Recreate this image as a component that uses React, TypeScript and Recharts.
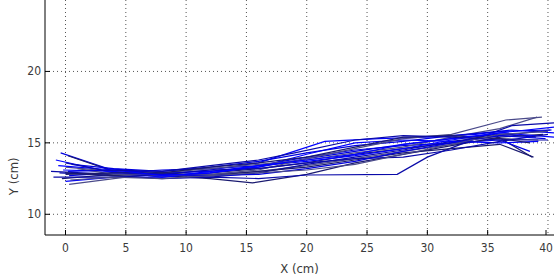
import { CartesianGrid, Line, LineChart, XAxis, YAxis } from "recharts";

// trajectories, each a list of [x, y] points in cm
const TRACK_01 = [[-0.4, 14.3], [3.5, 13.2], [8, 12.9], [12, 13.0], [16, 13.3], [20, 13.9], [24, 14.4], [28, 14.9], [32, 15.3], [36, 15.6], [39, 15.4]];
const TRACK_02 = [[0.2, 14.1], [4, 13.0], [8, 12.7], [12, 12.9], [16, 13.2], [20, 13.6], [24, 14.2], [28, 14.6], [32, 15.0], [35.5, 15.6], [38.7, 14.0]];
const TRACK_03 = [[-0.8, 13.8], [4, 12.9], [8, 12.8], [12, 13.1], [16, 13.6], [21.5, 15.1], [26, 15.3], [30, 15.4], [34, 15.6], [37, 15.9], [40.5, 15.7]];
const TRACK_04 = [[0, 13.3], [4, 13.0], [8, 12.6], [12, 12.8], [16, 13.0], [20, 13.4], [24, 13.9], [28, 14.4], [32, 14.9], [36, 15.3], [39.2, 15.2]];
const TRACK_05 = [[-1.2, 13.0], [4, 12.8], [8, 12.8], [12, 12.6], [16, 12.9], [20, 13.5], [24, 14.0], [28, 14.5], [32, 15.1], [36, 15.5], [40.2, 15.9]];
const TRACK_06 = [[0.3, 12.7], [4, 12.9], [8, 13.1], [12, 13.2], [16, 13.4], [20, 14.0], [24, 14.5], [28, 14.8], [32, 15.0], [36, 15.2], [38.5, 14.4]];
const TRACK_07 = [[-0.3, 12.5], [4, 12.8], [8, 12.7], [12, 12.5], [15.5, 12.2], [20, 12.8], [24, 13.6], [28, 14.2], [32, 14.8], [36, 15.4], [39.6, 15.6]];
const TRACK_08 = [[0, 12.3], [4, 12.6], [8, 12.6], [12, 12.9], [16, 13.3], [20, 14.2], [24, 15.0], [28, 15.2], [32, 15.1], [36, 15.0], [39.2, 15.1]];
const TRACK_09 = [[0.3, 12.1], [4, 12.5], [8, 12.9], [12, 13.2], [16, 13.5], [20, 13.8], [24, 14.3], [28, 14.7], [32, 15.4], [36, 16.0], [39.1, 16.8]];
const TRACK_10 = [[-0.5, 12.9], [4, 12.7], [8, 12.5], [12, 12.6], [16, 12.5], [20, 12.75], [27.5, 12.8], [30, 14.0], [34, 15.3], [37, 16.2], [40.5, 16.4]];
const TRACK_11 = [[0.5, 13.5], [4, 13.2], [8, 13.0], [12, 13.3], [16, 13.7], [20, 14.3], [24, 14.8], [28, 15.1], [32, 15.5], [36, 15.8], [40.3, 15.9]];
const TRACK_12 = [[0, 12.9], [4, 12.7], [8, 12.9], [12, 12.7], [16, 13.0], [20, 13.3], [24, 13.8], [28, 14.3], [32, 14.6], [36, 14.9], [38.8, 14.0]];
const TRACK_13 = [[-0.2, 13.1], [4, 13.0], [8, 12.6], [12, 13.0], [16, 13.4], [20, 13.7], [24, 14.1], [28, 14.6], [32, 15.2], [36, 15.7], [40.5, 15.4]];
const TRACK_14 = [[1, 13.2], [4, 12.8], [8, 12.7], [12, 12.8], [16, 13.1], [20, 13.9], [24, 14.6], [28, 15.3], [32, 15.6], [36.5, 16.6], [39.5, 16.8]];
const TRACK_15 = [[-1, 12.6], [4, 12.6], [8, 12.8], [12, 13.1], [16, 13.2], [20, 13.6], [24, 13.9], [28, 14.0], [32, 14.5], [36, 15.1], [40, 15.6]];
const TRACK_16 = [[0.2, 13.0], [4, 13.1], [8, 12.8], [12, 12.7], [16, 12.8], [20, 13.2], [24, 13.7], [28, 14.4], [32, 15.0], [36, 15.5], [39.8, 15.3]];
const TRACK_17 = [[0, 12.8], [4, 12.9], [8, 12.9], [12, 13.3], [16, 13.6], [20, 14.0], [24, 14.7], [28, 15.4], [32, 15.5], [36, 15.3], [38.5, 15.0]];
const TRACK_18 = [[-0.6, 13.4], [4, 13.1], [8, 12.7], [12, 12.9], [16, 13.4], [20, 13.8], [24, 14.2], [28, 14.9], [32, 15.3], [36, 15.7], [40.5, 16.1]];
const TRACK_19 = [[0.4, 12.4], [4, 12.6], [8, 12.5], [12, 12.7], [16, 12.9], [20, 13.1], [24, 13.5], [28, 14.2], [32, 14.9], [36, 15.6], [40, 15.8]];
const TRACK_20 = [[0, 13.6], [3, 13.1], [8, 13.0], [12, 13.4], [16, 13.8], [19, 14.3], [24, 15.2], [28, 15.5], [32, 15.4], [36, 15.2], [40, 15.2]];

const TRACKS = [
  TRACK_01, TRACK_02, TRACK_03, TRACK_04, TRACK_05, TRACK_06, TRACK_07, TRACK_08, TRACK_09, TRACK_10,
  TRACK_11, TRACK_12, TRACK_13, TRACK_14, TRACK_15, TRACK_16, TRACK_17, TRACK_18, TRACK_19, TRACK_20,
];

const X_TICKS = [0, 5, 10, 15, 20, 25, 30, 35, 40];
const Y_TICKS = [10, 15, 20];

const STROKES = ["#0000e0", "#1a1a70", "#0000ff", "#4a4a8a", "#0a0aa8"];
const FONT = "'Liberation Sans Narrow', 'DejaVu Sans Condensed', 'Liberation Sans', sans-serif";
const TEXT = "#3a3a3a";

function XTick({ x, y, payload }: any) {
  const axisY = y - 8;
  return (
    <g>
      <line x1={x} y1={axisY} x2={x} y2={axisY - 5} stroke="#000" />
      <text x={x} y={y + 9} textAnchor="middle" fontSize={12} fontFamily={FONT} fill={TEXT}>{payload.value}</text>
    </g>
  );
}

function YTick({ x, y, payload }: any) {
  const axisX = x + 4;
  return (
    <g>
      <line x1={axisX} y1={y} x2={axisX + 5} y2={y} stroke="#000" />
      <text x={x} y={y + 4} textAnchor="end" fontSize={12} fontFamily={FONT} fill={TEXT}>{payload.value}</text>
    </g>
  );
}

function YLabel({ viewBox }: any) {
  const cx = viewBox.x + 18;
  const cy = viewBox.y + viewBox.height * 0.75;
  return (
    <text x={cx} y={cy} transform={`rotate(-90, ${cx}, ${cy})`} textAnchor="middle" fontSize={13} fontFamily={FONT} fill={TEXT}>Y (cm)</text>
  );
}

export default function App() {
  return (
    <div style={{ position: "absolute", left: 0, top: 0, width: 554, height: 277, background: "#fff" }}>
      <LineChart width={554} height={277} margin={{ top: 0, right: 0, bottom: 0, left: 0 }}>
        <CartesianGrid stroke="#555" strokeDasharray="1 3" horizontalValues={Y_TICKS} verticalValues={X_TICKS} />
        <XAxis
          type="number"
          dataKey="x"
          domain={[-1.7, 40.5]}
          ticks={X_TICKS}
          allowDataOverflow
          height={42}
          tickSize={0}
          tickMargin={8}
          tickLine={false}
          tick={<XTick />}
          stroke="#000"
          label={{ value: "X (cm)", position: "insideBottom", offset: 4, fontSize: 13, fontFamily: FONT, fill: TEXT }}
        />
        <YAxis
          type="number"
          dataKey="y"
          domain={[8.55, 25]}
          ticks={Y_TICKS}
          allowDataOverflow
          width={45}
          tickSize={0}
          tickMargin={4}
          tickLine={false}
          tick={<YTick />}
          stroke="#000"
          label={<YLabel />}
        />
        {TRACKS.map((track, i) => (
          <Line
            key={i}
            data={track.map(([x, y]) => ({ x, y }))}
            dataKey="y"
            type="linear"
            stroke={STROKES[i % STROKES.length]}
            strokeWidth={1.2}
            dot={false}
            activeDot={false}
            isAnimationActive={false}
          />
        ))}
      </LineChart>
    </div>
  );
}
